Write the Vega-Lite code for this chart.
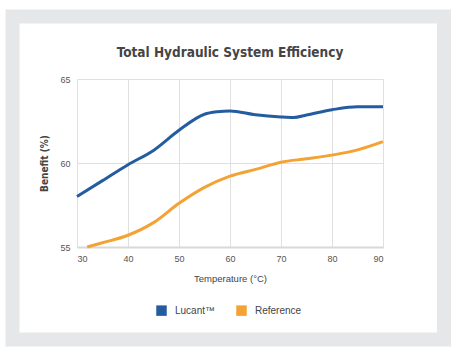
{
  "$schema": "https://vega.github.io/schema/vega-lite/v6.json",
  "width": 306,
  "height": 168,
  "autosize": {"type": "none"},
  "padding": {"left": 77, "top": 79, "right": 73, "bottom": 106},
  "background": "white",
  "title": {
    "text": "Total Hydraulic System Efficiency",
    "font": "DejaVu Sans Condensed, Roboto Condensed, Liberation Sans Narrow, Roboto",
    "fontSize": 13.5,
    "fontWeight": "bold",
    "color": "#454545",
    "anchor": "middle",
    "frame": "group",
    "offset": -50
  },
  "config": {
    "view": {"stroke": null},
    "font": "Liberation Sans"
  },
  "datasets": {
    "curves": [
      {"series": "Lucant™", "temp": 30, "benefit": 58.0},
      {"series": "Lucant™", "temp": 35, "benefit": 58.95},
      {"series": "Lucant™", "temp": 40, "benefit": 59.9},
      {"series": "Lucant™", "temp": 45, "benefit": 60.75},
      {"series": "Lucant™", "temp": 50, "benefit": 61.95},
      {"series": "Lucant™", "temp": 55, "benefit": 62.9},
      {"series": "Lucant™", "temp": 57.5, "benefit": 63.05},
      {"series": "Lucant™", "temp": 60, "benefit": 63.1},
      {"series": "Lucant™", "temp": 65, "benefit": 62.87},
      {"series": "Lucant™", "temp": 70, "benefit": 62.74},
      {"series": "Lucant™", "temp": 72.5, "benefit": 62.71},
      {"series": "Lucant™", "temp": 75, "benefit": 62.86},
      {"series": "Lucant™", "temp": 80, "benefit": 63.17},
      {"series": "Lucant™", "temp": 85, "benefit": 63.35},
      {"series": "Lucant™", "temp": 90, "benefit": 63.35},
      {"series": "Reference", "temp": 32, "benefit": 55.0},
      {"series": "Reference", "temp": 35, "benefit": 55.25},
      {"series": "Reference", "temp": 40, "benefit": 55.7},
      {"series": "Reference", "temp": 45, "benefit": 56.45},
      {"series": "Reference", "temp": 50, "benefit": 57.6},
      {"series": "Reference", "temp": 55, "benefit": 58.55},
      {"series": "Reference", "temp": 60, "benefit": 59.22},
      {"series": "Reference", "temp": 65, "benefit": 59.62},
      {"series": "Reference", "temp": 70, "benefit": 60.05},
      {"series": "Reference", "temp": 75, "benefit": 60.25},
      {"series": "Reference", "temp": 80, "benefit": 60.47},
      {"series": "Reference", "temp": 85, "benefit": 60.78},
      {"series": "Reference", "temp": 90, "benefit": 61.27}
    ]
  },
  "layer": [
    {
      "data": {"values": [{}]},
      "mark": {"type": "rect", "filled": false, "stroke": "#e6e7e8", "strokeWidth": 14, "clip": false},
      "encoding": {
        "x": {"datum": 17.35, "type": "quantitative"},
        "x2": {"datum": 101.96},
        "y": {"datum": 68.72, "type": "quantitative"},
        "y2": {"datum": 49.49}
      }
    },
    {
      "data": {"name": "curves"},
      "mark": {"type": "line", "interpolate": "monotone", "strokeWidth": 3},
      "encoding": {
        "x": {
          "field": "temp",
          "type": "quantitative",
          "scale": {"domain": [30, 90], "nice": false, "zero": false},
          "axis": {
            "values": [30, 40, 50, 60, 70, 80, 90],
            "title": "Temperature (°C)",
            "titleFont": "Liberation Sans",
            "titleFontSize": 9.5,
            "titleFontWeight": "normal",
            "titleColor": "#444444",
            "titlePadding": 10,
            "labelFont": "Liberation Sans",
            "labelFontSize": 9,
            "labelColor": "#555555",
            "labelPadding": 7,
            "ticks": false,
            "grid": true,
            "gridColor": "#e0e0e0",
            "gridWidth": 1,
            "domain": true,
            "domainColor": "#d8d8d8",
            "domainWidth": 2
          }
        },
        "y": {
          "field": "benefit",
          "type": "quantitative",
          "scale": {"domain": [55, 65], "nice": false, "zero": false},
          "axis": {
            "values": [55, 60, 65],
            "title": "Benefit (%)",
            "titleFont": "DejaVu Sans Condensed, Roboto Condensed, Liberation Sans Narrow, Roboto",
            "titleFontSize": 10,
            "titleFontWeight": "bold",
            "titleColor": "#454545",
            "titlePadding": 10,
            "labelFont": "Liberation Sans",
            "labelFontSize": 9,
            "labelColor": "#555555",
            "labelPadding": 7,
            "ticks": false,
            "grid": true,
            "gridColor": "#e0e0e0",
            "gridWidth": 1,
            "domain": false
          }
        },
        "color": {
          "field": "series",
          "type": "nominal",
          "scale": {"domain": ["Lucant™", "Reference"], "range": ["#235d9f", "#f4a234"]},
          "legend": {
            "title": null,
            "orient": "none",
            "legendX": 79,
            "legendY": 226,
            "direction": "horizontal",
            "symbolType": "square",
            "symbolSize": 110,
            "symbolStrokeWidth": 0,
            "labelFont": "Liberation Sans",
            "labelFontSize": 10,
            "labelColor": "#444444",
            "labelOffset": 8,
            "columnPadding": 20,
            "encode": {
              "symbols": {
                "update": {
                  "fill": {"scale": "color", "field": "value"},
                  "fillOpacity": {"value": 1}
                }
              }
            }
          }
        }
      }
    }
  ]
}
